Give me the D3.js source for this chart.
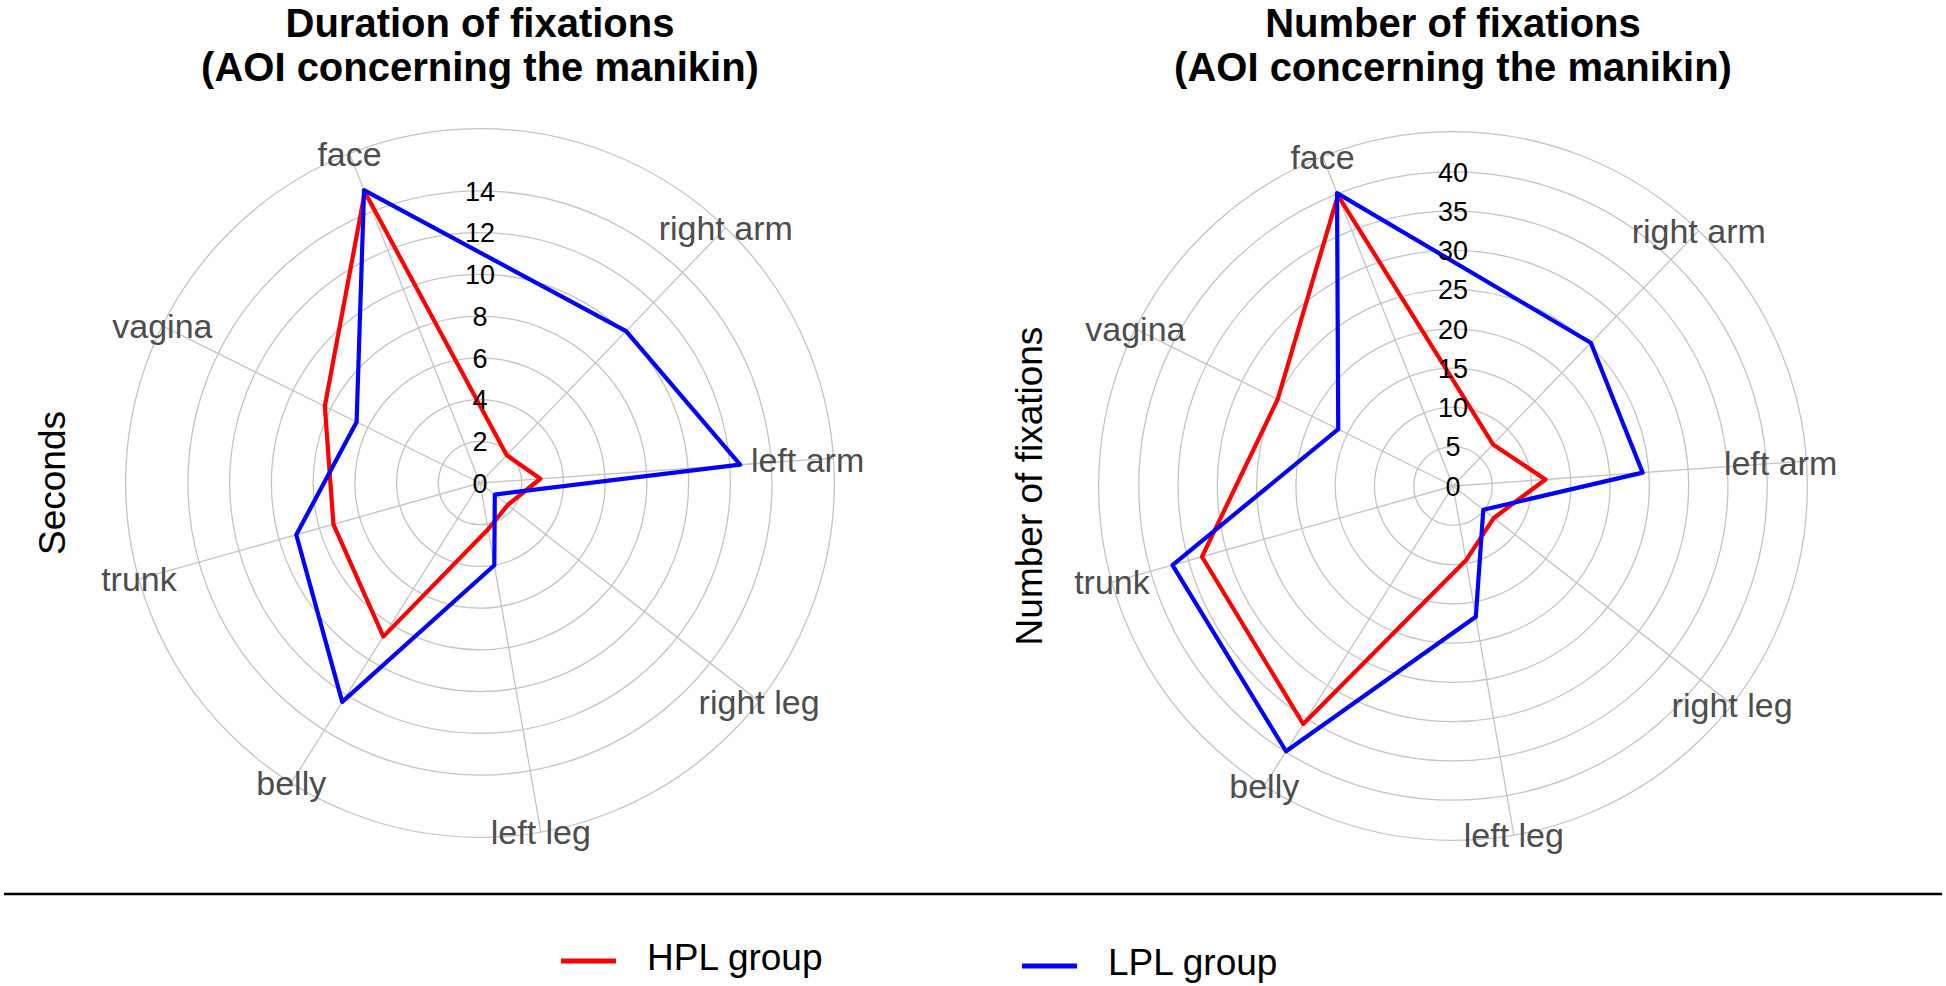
<!DOCTYPE html>
<html><head><meta charset="utf-8">
<script src="https://cdn.jsdelivr.net/npm/d3@7"></script>
<style>
body{margin:0;background:#fff;}
svg{display:block;font-family:"Liberation Sans", Arial, sans-serif;}
</style>
</head><body>
<svg id="c" width="1946" height="986"></svg>
<script>
// ---- data ----
const categories = ["right arm", "left arm", "right leg", "left leg", "belly", "trunk", "vagina", "face"];
const durationHPL = [1.85, 2.9, 1.7, 2.25, 8.7, 7.3, 8.3, 15.0];
const durationLPL = [10.1, 12.5, 0.9, 4.0, 12.4, 9.15, 6.6, 15.1];
const countHPL = [7.35, 11.8, 6.6, 9.6, 35.8, 33.2, 24.9, 39.8];
const countLPL = [25.3, 24.2, 4.9, 16.9, 39.9, 37.1, 16.3, 40.1];
const durationTicks = [0, 2, 4, 6, 8, 10, 12, 14];
const countTicks = [0, 5, 10, 15, 20, 25, 30, 35, 40];
const groups = ["HPL group", "LPL group"];
const groupColors = ["#FF0000", "#0000FF"];

// ---- drawing ----
const svg = d3.select("#c");
const deg = Math.PI / 180;
const angle = d3.scaleLinear().domain([0, categories.length - 1]).range([43.9 * deg, 338.4 * deg]);
const R = 315, Router = R * 0.45 / 0.4;
const labelShift = {"left arm": -26};

function radar(o) {
  const all = o.series.flat();
  const r = d3.scaleLinear().domain([0, d3.max(all)]).range([0, R]);
  const g = svg.append("g").attr("transform", `translate(${o.cx},${o.cy})`);

  g.selectAll("circle.grid").data(o.ticks.filter(t => t > 0)).join("circle")
    .attr("r", d => r(d)).attr("fill", "none").attr("stroke", "#c4c4c4").attr("stroke-width", 1.3);
  g.append("circle").attr("r", Router).attr("fill", "none").attr("stroke", "#c4c4c4").attr("stroke-width", 1.3);

  g.selectAll("line.spoke").data(categories).join("line")
    .attr("x1", 0).attr("y1", 0)
    .attr("x2", (d, i) => Router * Math.sin(angle(i)))
    .attr("y2", (d, i) => -Router * Math.cos(angle(i)))
    .attr("stroke", "#c4c4c4").attr("stroke-width", 1.3);

  const line = d3.lineRadial().angle((d, i) => angle(i)).radius(d => r(d)).curve(d3.curveLinearClosed);
  o.series.forEach((s, k) => {
    g.append("path").attr("d", line(s)).attr("fill", "none")
      .attr("stroke", groupColors[k]).attr("stroke-width", 4.2).attr("stroke-linejoin", "round");
  });

  g.selectAll("text.cat").data(categories).join("text")
    .attr("x", (d, i) => (Router + (labelShift[d] || 0)) * Math.sin(angle(i)))
    .attr("y", (d, i) => -(Router + (labelShift[d] || 0)) * Math.cos(angle(i)))
    .attr("dy", "0.36em").attr("text-anchor", "middle")
    .attr("font-size", 34).attr("fill", "#4D4D4D").text(d => d);

  g.selectAll("text.tick").data(o.ticks).join("text")
    .attr("x", 0).attr("y", d => -r(d)).attr("dy", "0.36em")
    .attr("text-anchor", "middle").attr("font-size", 27).attr("fill", "#000").text(d => d);

  svg.append("text").attr("x", o.cx).attr("y", 37).attr("text-anchor", "middle")
    .attr("font-size", 40).attr("font-weight", "bold").text(o.title[0]);
  svg.append("text").attr("x", o.cx).attr("y", 81).attr("text-anchor", "middle")
    .attr("font-size", 40).attr("font-weight", "bold").text(o.title[1]);

  svg.append("text").attr("transform", `translate(${o.yx},${o.cy}) rotate(-90)`)
    .attr("text-anchor", "middle").attr("font-size", 37).attr("fill", "#000").text(o.yTitle);
}

radar({cx: 480, cy: 483, ticks: durationTicks, series: [durationHPL, durationLPL],
  title: ["Duration of fixations", "(AOI concerning the manikin)"], yTitle: "Seconds", yx: 65});
radar({cx: 1453, cy: 486, ticks: countTicks, series: [countHPL, countLPL],
  title: ["Number of fixations", "(AOI concerning the manikin)"], yTitle: "Number of fixations", yx: 1042});

// separator line
svg.append("line").attr("x1", 4).attr("x2", 1942).attr("y1", 894).attr("y2", 894)
  .attr("stroke", "#000").attr("stroke-width", 2.5);

// legend
const legendX = [561, 1022], legendY = [961, 966];
groups.forEach((gname, k) => {
  svg.append("line").attr("x1", legendX[k]).attr("x2", legendX[k] + 55)
    .attr("y1", legendY[k]).attr("y2", legendY[k])
    .attr("stroke", groupColors[k]).attr("stroke-width", 5);
  svg.append("text").attr("x", legendX[k] + 86).attr("y", legendY[k] + 9)
    .attr("font-size", 37).attr("fill", "#000").text(gname);
});
</script>
</body></html>
